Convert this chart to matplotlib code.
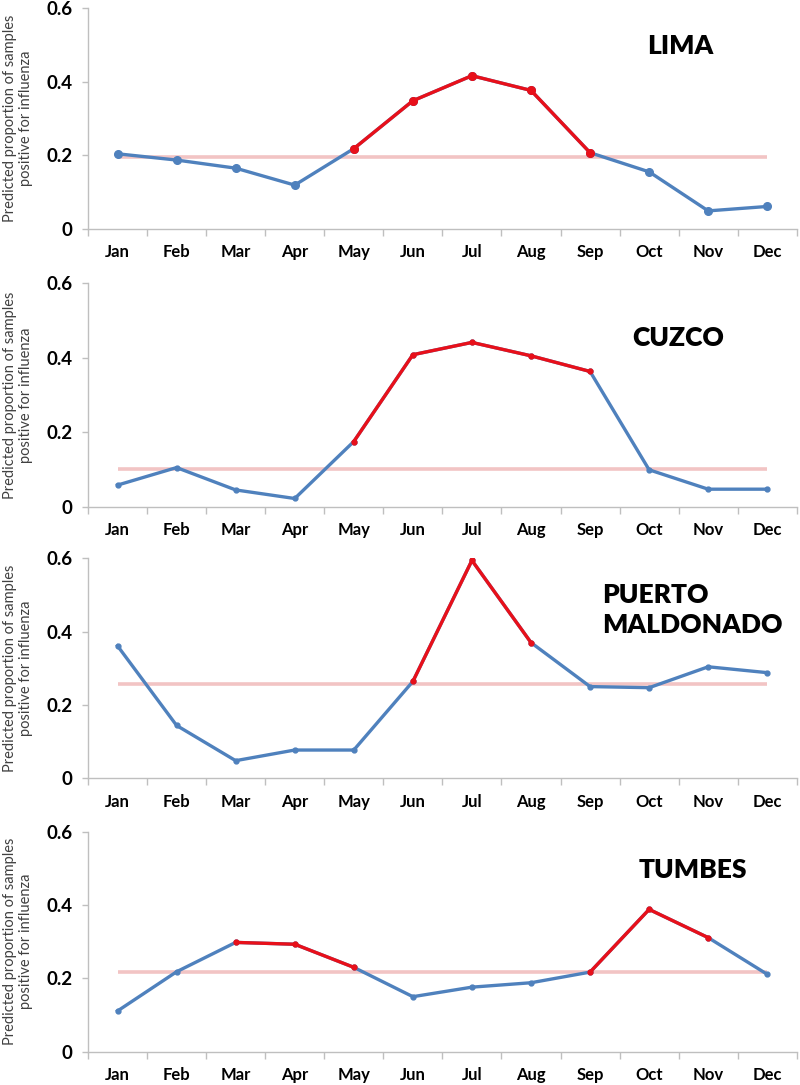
import numpy as np
import matplotlib
matplotlib.use('Agg')
import matplotlib.pyplot as plt

months = ['Jan', 'Feb', 'Mar', 'Apr', 'May', 'Jun', 'Jul', 'Aug', 'Sep', 'Oct', 'Nov', 'Dec']

lima = [0.204, 0.187, 0.165, 0.119, 0.218, 0.348, 0.416, 0.376, 0.207, 0.155, 0.049, 0.061]
cuzco = [0.058, 0.105, 0.045, 0.022, 0.175, 0.408, 0.441, 0.405, 0.363, 0.099, 0.047, 0.047]
puerto = [0.361, 0.144, 0.048, 0.077, 0.077, 0.264, 0.594, 0.370, 0.250, 0.247, 0.304, 0.288]
tumbes = [0.111, 0.218, 0.298, 0.293, 0.230, 0.150, 0.176, 0.188, 0.217, 0.388, 0.311, 0.211]

thresholds = [0.196, 0.101, 0.257, 0.216]
names = ['LIMA', 'CUZCO', 'PUERTO\nMALDONADO', 'TUMBES']
# influenza season as (first month, last month) index pairs
seasons = [[(4, 8)], [(4, 8)], [(5, 7)], [(2, 4), (8, 10)]]

yticks = [0, 0.2, 0.4, 0.6]
ytick_labels = ['0', '0.2', '0.4', '0.6']

BLUE = '#4F81BD'
RED = '#E8101A'
PINK = '#F2C4C4'
GRID = '#BFBFBF'

plt.rcParams['font.family'] = ['Lato', 'DejaVu Sans']

fig = plt.figure(figsize=(8, 10.85), dpi=100)

# axes boxes in figure fractions
boxes = [(0.11, 0.789, 0.886, 0.2037),
         (0.11, 0.533, 0.886, 0.206),
         (0.11, 0.2827, 0.886, 0.2028),
         (0.11, 0.0307, 0.886, 0.2028)]
# title anchor (axes fraction) and alignment
title_pos = [(0.835, 0.828, 'center'), (0.832, 0.755, 'center'),
             (0.725, 0.767, 'left'), (0.853, 0.826, 'center')]
marker_sizes = [5.5, 3.5, 3.5, 3.5]

series = [lima, cuzco, puerto, tumbes]
x = np.arange(len(months))

for k, vals in enumerate(series):
    ax = fig.add_axes(boxes[k])
    vals = np.array(vals)

    ax.plot([x[0], x[-1]], [thresholds[k]] * 2, color=PINK, lw=2.6, zorder=1,
            solid_capstyle='butt')
    ax.plot(x, vals, color=BLUE, lw=2.4, marker='o', ms=marker_sizes[k], zorder=2)
    for a, b in seasons[k]:
        ax.plot(x[a:b + 1], vals[a:b + 1], color=RED, lw=2.4, marker='o',
                ms=marker_sizes[k], zorder=3)

    ax.set_xlim(-0.5, 11.5)
    ax.set_ylim(0, 0.6)

    for s in ['top', 'right']:
        ax.spines[s].set_visible(False)
    for s in ['left', 'bottom']:
        ax.spines[s].set_color(GRID)
        ax.spines[s].set_linewidth(1.0)

    ax.set_xticks(x)
    ax.set_xticklabels(months, fontsize=12, fontweight='bold')
    ax.set_xticks(np.arange(-0.5, 12, 1), minor=True)
    ax.tick_params(axis='x', which='major', length=0, pad=11)
    ax.tick_params(axis='x', which='minor', length=5, color=GRID, width=1)

    ax.set_yticks(yticks)
    ax.set_yticklabels(ytick_labels, fontsize=13.5, fontweight='bold')
    ax.tick_params(axis='y', length=4, color=GRID, width=1, pad=7)

    ax.set_ylabel('Predicted proportion of samples\npositive for influenza',
                  fontsize=10.5, color='#404040', labelpad=10)

    tx, ty, ha = title_pos[k]
    ax.text(tx, ty, names[k], transform=ax.transAxes, ha=ha, va='center',
            fontsize=19, fontweight='heavy', linespacing=1.3)

fig.savefig('out.png', dpi=100)
